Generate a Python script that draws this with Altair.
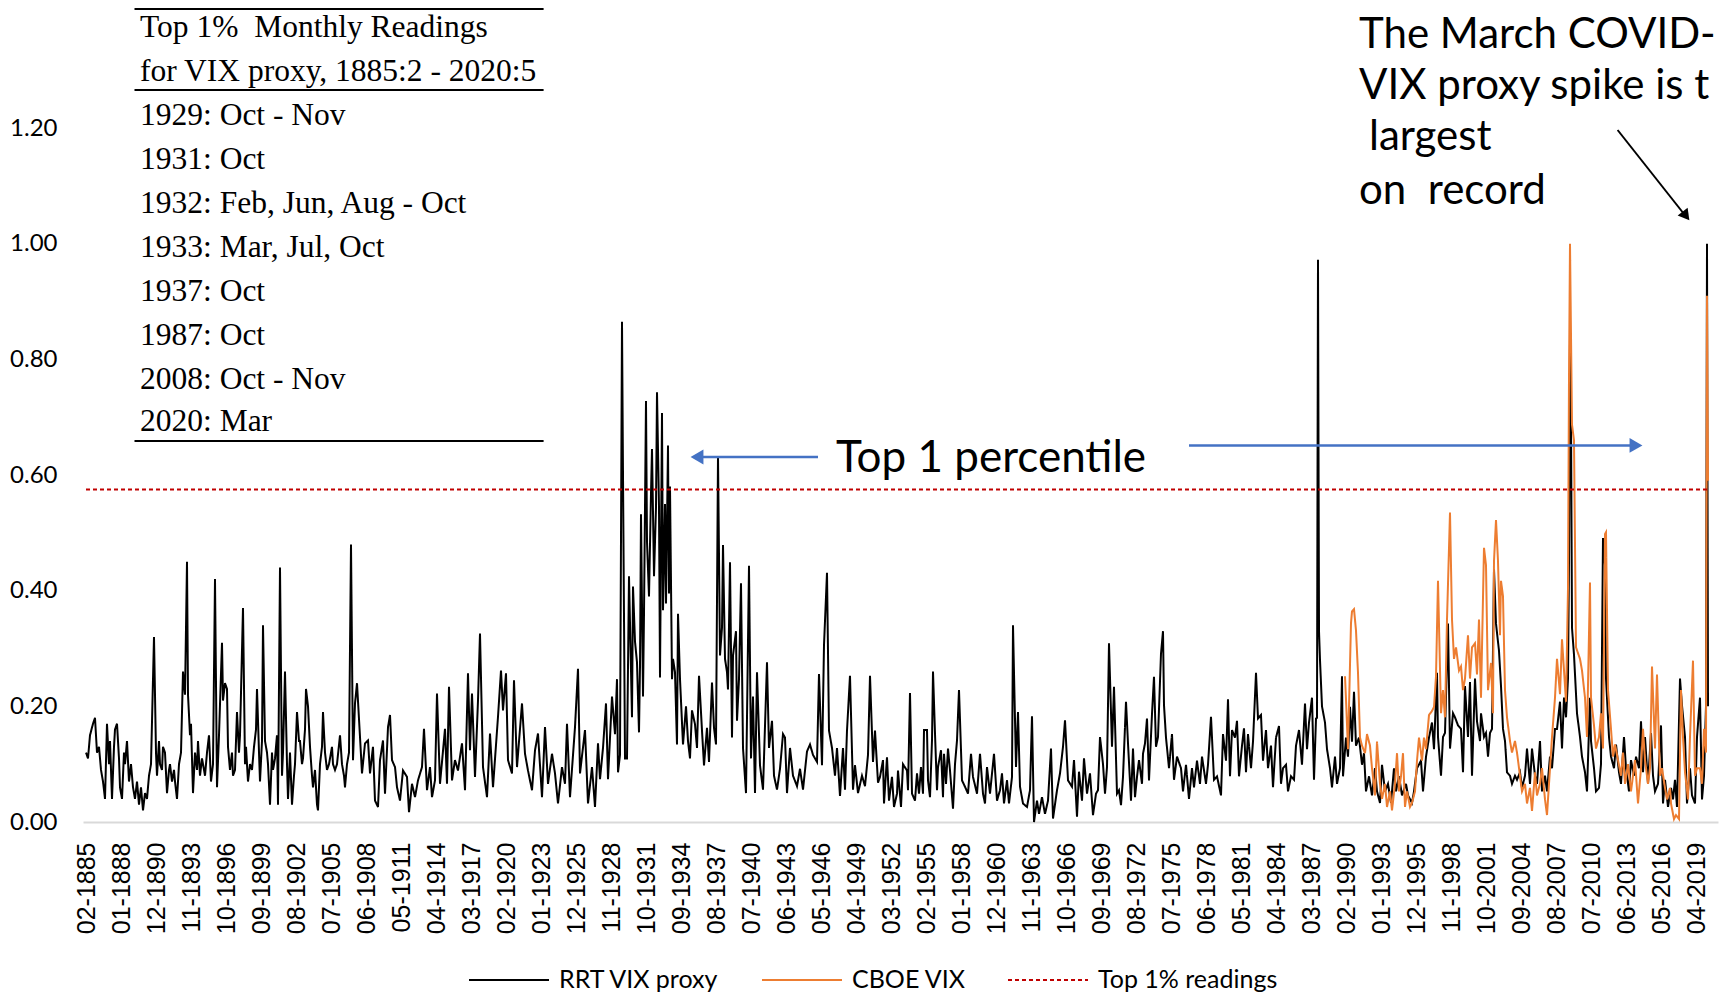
import altair as alt
import pandas as pd

# ---------------- data (month index: 0 = Feb 1885) ----------------
rrt_1885_1907 = [(0,.12),(2,.11),(4,.15),(7,.17),(9,.18),(11,.12),(13,.13),(15,.09),(17,.07),(19,.04),(21,.17),(23,.10),(24,.14),(26,.04),(28,.13),(29,.16),(31,.17),(33,.11),(34,.06),(36,.04),(38,.12),(39,.10),(41,.14),(43,.07),(45,.10),(47,.06),(49,.04),(51,.07),(53,.03),(55,.06),(57,.02),(59,.05),(61,.04),(63,.08),(65,.10),(68,.32),(70,.12),(71,.08),(73,.14),(74,.10),(76,.09),(77,.13),(79,.12),(81,.05),(83,.09),(84,.10),(86,.07),(88,.09),(89,.07),(91,.04),(93,.10),(95,.12),(97,.26),(99,.22),(101,.45),(102,.22),(104,.15),(105,.17),(107,.05),(109,.12),(111,.09),(112,.14),(114,.08),(116,.11),(117,.10),(119,.08),(121,.12),(123,.15),(125,.07),(127,.10),(129,.42),(131,.06),(133,.15),(136,.31),(137,.21),(139,.24),(141,.23),(142,.13),(144,.09),(146,.12),(147,.08),(149,.09),(151,.19),(153,.12),(154,.15),(157,.37),(159,.10),(160,.13),(162,.07),(164,.10),(166,.09),(168,.13),(170,.16),(171,.23),(173,.12),(174,.07),(176,.14),(177,.34),(179,.14),(181,.12),(182,.10),(184,.03),(186,.12),(187,.09),(189,.11),(191,.15),(192,.03),(194,.44),(196,.08),(197,.12),(199,.26),(201,.10),(202,.04),(204,.12),(206,.03),(208,.08),(209,.10),(211,.19),(213,.14),(214,.14),(216,.10),(217,.11),(219,.16),(220,.23),(222,.20),(224,.13),(226,.08),(227,.06),(229,.09),(231,.03),(232,.02),(234,.10),(236,.13),(237,.19),(239,.12),(241,.09),(243,.10),(244,.11),(246,.13),(247,.10),(249,.09),(251,.10),(254,.15),(256,.10),(258,.08),(259,.06),(261,.10),(262,.11),(263,.12),(265,.48)]
rrt_1907_1929 = [(267,.107),(269,.205),(271,.24),(274,.147),(276,.084),(279,.136),(282,.141),(284,.084),(287,.13),(289,.037),(292,.026),(294,.107),(297,.141),(299,.049),(302,.164),(304,.185),(306,.107),(309,.095),(311,.06),(314,.037),(317,.089),(321,.078),(323,.017),(326,.066),(329,.043),(332,.072),(336,.095),(338,.161),(341,.055),(344,.095),(346,.043),(349,.072),(351,.222),(354,.066),(359,.161),(361,.066),(363,.234),(366,.072),(369,.107),(372,.089),(376,.136),(379,.055),(382,.257),(384,.124),(386,.222),(389,.078),(392,.21),(394,.326),(397,.095),(401,.043),(404,.153),(407,.06),(412,.182),(415,.262),(417,.193),(420,.257),(422,.107),(426,.084),(428,.245),(431,.095),(436,.205),(439,.118),(442,.089),(446,.055),(449,.124),(452,.153),(456,.043),(459,.164),(462,.066),(466,.118),(469,.084),(472,.032),(476,.095),(479,.066),(481,.17),(484,.043),(489,.164),(492,.265),(494,.084),(499,.159),(502,.032),(506,.095),(509,.026),(512,.136)]
rrt_1929_1951 = [(514,.074),(517,.128),(520,.205),(522,.074),(526,.217),(529,.152),(531,.247),(532,.086),(534,.116),(536,.865),(537,.60),(539,.11),(541,.11),(543,.425),(546,.181),(547,.407),(549,.312),(551,.276),(553,.155),(554,.27),(555,.532),(557,.217),(558,.36),(560,.728),(561,.485),(563,.39),(565,.568),(566,.645),(568,.425),(570,.544),(571,.743),(573,.544),(574,.25),(576,.707),(577,.366),(579,.55),(580,.378),(582,.651),(583,.395),(584,.58),(586,.247),(587,.282),(589,.259),(591,.134),(592,.36),(594,.247),(597,.134),(600,.2),(602,.14),(604,.11),(606,.193),(609,.169),(611,.128),(613,.253),(616,.158),(618,.098),(621,.163),(623,.104),(626,.241),(628,.163),(630,.134),(632,.633),(634,.288),(636,.336),(637,.479),(639,.282),(641,.259),(642,.229),(644,.449),(646,.146),(647,.288),(650,.33),(651,.175),(653,.247),(655,.413),(657,.128),(660,.05),(663,.443),(665,.11),(667,.217),(669,.05),(671,.259),(674,.098),(677,.056),(681,.276),(683,.128),(686,.175),(688,.08),(691,.056),(694,.092),(697,.152),(699,.146),(701,.05),(704,.128),(707,.08),(711,.062),(714,.092),(717,.056),(721,.122),(724,.134),(727,.116),(731,.104),(733,.256),(736,.098),(738,.306),(741,.431),(743,.158),(746,.128),(749,.08),(751,.128),(754,.045),(757,.128),(759,.056),(761,.158),(764,.253),(767,.056),(769,.098),(772,.05),(776,.08),(779,.062),(782,.116),(784,.253),(787,.104),(789,.158),(792,.068)]
rrt_1951_1974 = [(794,.078),(797,.107),(798,.032),(801,.112),(803,.037),(806,.078),(808,.026),(811,.049),(812,.089),(815,.026),(817,.10),(821,.089),(822,.055),(824,.223),(826,.049),(829,.037),(831,.084),(833,.049),(835,.095),(837,.049),(838,.159),(841,.159),(842,.072),(844,.043),(846,.141),(847,.26),(849,.153),(851,.055),(852,.095),(855,.124),(857,.043),(858,.118),(860,.066),(862,.127),(864,.089),(867,.023),(869,.10),(871,.141),(873,.228),(876,.072),(879,.061),(882,.049),(885,.118),(887,.078),(891,.049),(894,.118),(897,.049),(899,.032),(901,.095),(904,.049),(908,.118),(911,.037),(914,.055),(916,.084),(918,.032),(921,.072),(923,.032),(926,.078),(927,.34),(930,.095),(932,.19),(934,.061),(937,.032),(941,.026),(944,.055),(946,.183),(948,.0),(951,.037),(953,.014),(956,.043),(959,.014),(962,.037),(965,.127),(967,.006),(971,.055),(974,.084),(977,.13),(979,.176),(982,.072),(986,.061),(988,.107),(991,.009),(993,.087),(996,.037),(998,.11),(1001,.049),(1004,.084),(1007,.012),(1010,.049),(1012,.055),(1014,.147),(1017,.10),(1019,.049),(1021,.095),(1023,.309),(1026,.13),(1028,.234),(1031,.049),(1033,.055),(1035,.029),(1037,.078),(1040,.208),(1042,.136),(1045,.037),(1047,.127),(1049,.043),(1051,.078),(1053,.107),(1056,.066),(1057,.118),(1059,.136),(1061,.179),(1063,.072),(1066,.187),(1068,.251),(1070,.13),(1072,.147),(1075,.291)]
rrt_1974_1997 = [(1077,.33),(1078,.202),(1080,.146),(1083,.093),(1086,.152),(1088,.073),(1091,.113),(1095,.093),(1097,.053),(1100,.099),(1103,.04),(1106,.093),(1108,.06),(1111,.106),(1114,.066),(1116,.113),(1120,.066),(1122,.099),(1125,.182),(1128,.073),(1131,.079),(1135,.046),(1137,.152),(1140,.106),(1142,.212),(1144,.079),(1146,.159),(1149,.146),(1151,.175),(1153,.079),(1156,.132),(1158,.162),(1160,.086),(1162,.152),(1165,.093),(1167,.139),(1170,.258),(1172,.179),(1175,.185),(1177,.106),(1180,.159),(1182,.093),(1185,.132),(1187,.06),(1190,.146),(1193,.166),(1195,.066),(1197,.093),(1200,.099),(1202,.053),(1205,.079),(1208,.073),(1210,.132),(1213,.159),(1216,.099),(1219,.205),(1221,.126),(1223,.172),(1226,.215),(1228,.073),(1230,.179),(1231,.18),(1232,.972),(1233,.33),(1234,.28),(1236,.20),(1239,.172),(1241,.126),(1244,.093),(1246,.06),(1249,.113),(1251,.066),(1254,.093),(1256,.252),(1257,.079),(1260,.146),(1262,.113),(1264,.199),(1266,.139),(1268,.225),(1270,.132),(1273,.146),(1276,.099),(1278,.119),(1280,.053),(1283,.079),(1286,.046),(1289,.093),(1291,.053),(1294,.033),(1296,.099),(1299,.053),(1302,.066),(1305,.033),(1308,.093),(1310,.053),(1313,.079),(1316,.046),(1320,.066),(1322,.046),(1326,.033),(1328,.053),(1331,.093),(1335,.106),(1337,.053),(1340,.113),(1343,.146),(1346,.172),(1348,.126),(1351,.258)]
rrt_1997_2020 = [(1352,.147),(1355,.08),(1357,.147),(1359,.154),(1362,.343),(1364,.127),(1367,.188),(1369,.181),(1372,.167),(1375,.161),(1377,.086),(1379,.235),(1382,.147),(1384,.242),(1386,.08),(1389,.248),(1391,.174),(1394,.14),(1395,.188),(1398,.147),(1400,.154),(1402,.113),(1404,.154),(1406,.161),(1408,.437),(1410,.343),(1413,.296),(1415,.235),(1417,.161),(1419,.14),(1421,.086),(1424,.08),(1426,.066),(1429,.08),(1431,.073),(1434,.086),(1436,.059),(1439,.08),(1441,.127),(1444,.066),(1446,.127),(1449,.08),(1451,.066),(1454,.14),(1456,.053),(1459,.08),(1461,.053),(1464,.113),(1466,.093),(1469,.161),(1471,.161),(1474,.208),(1476,.127),(1478,.215),(1480,.181),(1482,.248),(1483,.45),(1484,.835),(1485,.70),(1486,.336),(1488,.289),(1491,.188),(1494,.147),(1496,.113),(1499,.086),(1501,.053),(1504,.215),(1505,.14),(1508,.093),(1510,.053),(1513,.059),(1515,.10),(1517,.491),(1519,.444),(1520,.248),(1523,.147),(1525,.113),(1528,.093),(1530,.134),(1533,.086),(1535,.066),(1538,.147),(1540,.093),(1543,.053),(1545,.107),(1548,.08),(1550,.113),(1553,.093),(1555,.174),(1557,.086),(1559,.147),(1562,.066),(1565,.154),(1567,.08),(1569,.053),(1572,.066),(1575,.167),(1577,.032),(1579,.073),(1582,.026),(1585,.059),(1587,.039),(1589,.073),(1591,.026),(1594,.248),(1596,.201),(1599,.147),(1601,.032),(1604,.093),(1606,.046),(1609,.032),(1611,.147),(1614,.215),(1616,.039),(1618,.08),(1620,.20),(1621,1.0),(1622,.20)]

cboe_1990_2005 = [(1259,.252),(1260,.212),(1262,.126),(1265,.344),(1266,.364),(1268,.368),(1270,.331),(1272,.258),(1274,.146),(1276,.132),(1279,.119),(1281,.152),(1284,.132),(1286,.093),(1289,.046),(1291,.139),(1294,.066),(1296,.04),(1299,.066),(1301,.026),(1304,.053),(1306,.02),(1309,.066),(1311,.119),(1313,.053),(1315,.079),(1317,.119),(1319,.026),(1321,.053),(1324,.026),(1326,.033),(1329,.053),(1331,.106),(1333,.146),(1336,.106),(1338,.146),(1340,.126),(1343,.185),(1346,.192),(1348,.199),(1350,.252),(1352,.417),(1355,.188),(1357,.228),(1359,.181),(1361,.35),(1364,.535),(1366,.35),(1368,.282),(1370,.302),(1373,.262),(1375,.269),(1377,.228),(1379,.248),(1382,.323),(1384,.248),(1386,.302),(1389,.309),(1391,.255),(1393,.35),(1395,.215),(1398,.474),(1400,.444),(1402,.228),(1405,.275),(1407,.188),(1408,.451),(1410,.522),(1412,.451),(1414,.323),(1415,.417),(1417,.39),(1419,.228),(1421,.181),(1424,.14)]
cboe_2005_2020 = [(1426,.12),(1429,.14),(1431,.12),(1434,.08),(1436,.053),(1439,.066),(1441,.032),(1444,.059),(1446,.019),(1449,.086),(1451,.046),(1454,.066),(1456,.093),(1459,.039),(1461,.012),(1464,.093),(1466,.147),(1469,.215),(1471,.282),(1474,.221),(1476,.316),(1478,.262),(1480,.208),(1482,.404),(1483,.768),(1484,1.0),(1485,.842),(1486,.687),(1488,.66),(1490,.302),(1494,.282),(1496,.262),(1499,.215),(1501,.147),(1504,.414),(1505,.215),(1508,.167),(1510,.127),(1513,.147),(1515,.188),(1517,.127),(1519,.498),(1520,.501),(1522,.228),(1525,.161),(1527,.113),(1529,.134),(1532,.107),(1535,.08),(1537,.12),(1539,.066),(1542,.10),(1545,.053),(1547,.08),(1549,.107),(1552,.032),(1555,.093),(1557,.161),(1559,.107),(1562,.066),(1564,.093),(1566,.269),(1569,.127),(1571,.255),(1574,.08),(1576,.093),(1579,.059),(1581,.039),(1584,.059),(1585,.032),(1588,.005),(1590,.012),(1593,.005),(1595,.228),(1597,.147),(1599,.086),(1602,.039),(1604,.147),(1607,.279),(1609,.08),(1611,.093),(1614,.093),(1616,.066),(1618,.161),(1620,.12),(1621,.91),(1622,.59)]

top1_threshold = 0.575
top1_months = [0, 1623]

series_names = ["RRT VIX proxy", "CBOE VIX", "Top 1% readings"]
series_colors = ["#000000", "#ED7D31", "#C00000"]

y_ticks = [0.0, 0.2, 0.4, 0.6, 0.8, 1.0, 1.2]
x_tick_months = list(range(0, 1611, 35))

table_lines = ["Top 1%\u00a0 Monthly Readings", "for VIX proxy, 1885:2 - 2020:5",
               "1929: Oct - Nov", "1931: Oct", "1932: Feb, Jun, Aug - Oct",
               "1933: Mar, Jul, Oct", "1937: Oct", "1987: Oct", "2008: Oct - Nov", "2020: Mar"]
covid_lines = ["The March COVID-", "VIX proxy spike is t", "largest", "on\u00a0 record"]
pct_label = "Top 1 percentile"

# ---------------- build tables ----------------
def to_df(segments, name):
    rows = []
    for seg in segments:
        for m, v in seg:
            rows.append({"month": m, "value": v, "series": name})
    return pd.DataFrame(rows)

rrt_df = to_df([rrt_1885_1907, rrt_1907_1929, rrt_1929_1951, rrt_1951_1974, rrt_1974_1997, rrt_1997_2020], series_names[0])
cboe_df = to_df([cboe_1990_2005, cboe_2005_2020], series_names[1])
top_df = pd.DataFrame({"month": top1_months, "value": [top1_threshold] * len(top1_months), "series": series_names[2]})

PLOT_W, PLOT_H = 1635, 694
x_scale = alt.Scale(domain=[-3, 1632], nice=False, zero=False)
y_scale = alt.Scale(domain=[0, 1.2], nice=False)
color_scale = alt.Scale(domain=series_names, range=series_colors)
dash_scale = alt.Scale(domain=series_names, range=[[1, 0], [1, 0], [4, 3]])

label_expr = ("(((datum.value+1)%12+1) < 10 ? '0' : '') + ((datum.value+1)%12+1) + '-' + "
              "(1885 + floor((datum.value+1)/12))")

x_axis = alt.Axis(values=x_tick_months, labelExpr=label_expr, labelAngle=270, labelFont="Liberation Sans",
                  labelFontSize=25, labelColor="black", labelPadding=20, ticks=False, tickSize=0,
                  domainColor="#D9D9D9", domainWidth=2, grid=False, title=None, labelOverlap=False,
                  labelFlush=False)
y_axis = alt.Axis(values=y_ticks, format=".2f", ticks=False, tickSize=0, domain=False, grid=False,
                  labelFont="Lato", labelFontSize=24, labelColor="black", labelPadding=26, title=None)

legend = alt.Legend(orient="none", legendX=385, legendY=811, direction="horizontal", symbolType="stroke",
                    symbolSize=6400, symbolStrokeWidth=2, labelFont="Lato", labelFontSize=25,
                    labelColor="black", labelOffset=9, columnPadding=38, title=None, padding=0, labelLimit=0)

def series_layer(df):
    return alt.Chart(df).mark_line(strokeWidth=2).encode(
        x=alt.X("month:Q", scale=x_scale, axis=x_axis),
        y=alt.Y("value:Q", scale=y_scale, axis=y_axis),
        color=alt.Color("series:N", scale=color_scale, legend=legend),
        strokeDash=alt.StrokeDash("series:N", scale=dash_scale, legend=legend),
        order="month:Q",
    )

one = pd.DataFrame({"k": [0]})

def text_at(txt, px, py, size, font, **kw):
    return alt.Chart(one).mark_text(text=txt, font=font, fontSize=size, color="black",
                                    align="left", baseline="middle", **kw).encode(
        x=alt.value(px), y=alt.value(py))

def hrule(x1, x2, py, color="black", width=2):
    return alt.Chart(one).mark_rule(color=color, strokeWidth=width).encode(
        x=alt.value(x1), x2=alt.value(x2), y=alt.value(py))

layers = [series_layer(rrt_df), series_layer(cboe_df), series_layer(top_df)]

# table of top 1% readings
table_y = [-100.5, -56.4, -12.3, 31.8, 75.9, 120, 164.1, 208.2, 252.3, 294.2]
for line, py in zip(table_lines, table_y):
    layers.append(text_at(line, 57, py, 31.5, "Liberation Serif"))
for py in [-119, -38, 313]:
    layers.append(hrule(51.5, 460.6, py))

# COVID annotation
covid_y = [-93, -42, 9, 63]
covid_x = [1276, 1276, 1286, 1276]
for line, px, py in zip(covid_lines, covid_x, covid_y):
    layers.append(text_at(line, px, py, 42, "Lato"))
layers.append(alt.Chart(one).mark_rule(color="black", strokeWidth=2).encode(
    x=alt.value(1534.6), y=alt.value(2), x2=alt.value(1603), y2=alt.value(88.5)))
layers.append(alt.Chart(one).mark_point(shape="triangle-up", angle=142, filled=True, size=160,
                                         color="black", opacity=1).encode(
    x=alt.value(1603), y=alt.value(88)))

# Top 1 percentile arrows
blue = "#4472C4"
layers.append(hrule(612, 735, 329, color=blue, width=2.5))
layers.append(alt.Chart(one).mark_point(shape="triangle-left", filled=True, size=220, color=blue,
                                         opacity=1).encode(x=alt.value(614), y=alt.value(329)))
layers.append(hrule(1106, 1555, 317.4, color=blue, width=2.5))
layers.append(alt.Chart(one).mark_point(shape="triangle-right", filled=True, size=220, color=blue,
                                         opacity=1).encode(x=alt.value(1553), y=alt.value(317.4)))
layers.append(text_at(pct_label, 753, 331, 44, "Lato"))

chart = alt.layer(*layers).properties(
    width=PLOT_W, height=PLOT_H,
    padding={"left": 75, "top": 120, "right": 3, "bottom": 172},
    autosize=alt.AutoSizeParams(type="none"),
    background="white",
).configure_view(stroke=None)

chart.save("out.html", embed_options={"renderer": "svg", "actions": False})
